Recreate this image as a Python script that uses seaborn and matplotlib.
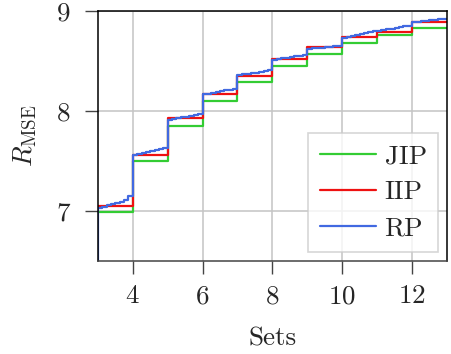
import numpy as np
import pandas as pd
import matplotlib
matplotlib.use("Agg")
import matplotlib.pyplot as plt
import seaborn as sns

# Per-set RMSE for the two set-level methods (value holds from set k to k+1)
sets = [3, 4, 5, 6, 7, 8, 9, 10, 11, 12, 13]
jip = [6.99, 7.50, 7.85, 8.10, 8.29, 8.45, 8.57, 8.68, 8.76, 8.83, 8.83]
iip = [7.05, 7.56, 7.93, 8.17, 8.35, 8.52, 8.64, 8.74, 8.79, 8.89, 8.89]

# RP is evaluated on a finer grid: eight sub-steps within each set
rp_by_set = {
    3: [7.03, 7.04, 7.06, 7.07, 7.08, 7.09, 7.11, 7.15],
    4: [7.56, 7.57, 7.58, 7.59, 7.60, 7.61, 7.62, 7.63],
    5: [7.91, 7.92, 7.93, 7.94, 7.94, 7.95, 7.96, 7.97],
    6: [8.17, 8.17, 8.18, 8.19, 8.20, 8.21, 8.21, 8.22],
    7: [8.36, 8.37, 8.37, 8.38, 8.38, 8.39, 8.40, 8.41],
    8: [8.51, 8.52, 8.53, 8.53, 8.54, 8.55, 8.55, 8.56],
    9: [8.62, 8.63, 8.63, 8.63, 8.64, 8.64, 8.65, 8.65],
    10: [8.73, 8.74, 8.75, 8.76, 8.77, 8.78, 8.79, 8.80],
    11: [8.80, 8.81, 8.82, 8.82, 8.83, 8.84, 8.85, 8.85],
    12: [8.89, 8.89, 8.90, 8.90, 8.91, 8.91, 8.92, 8.92],
}
rp_start = 6.0  # value before the first set is added

colors = {"JIP": "#33cc33", "IIP": "#ee1111", "RP": "#4169e1"}

rows = []
for name, vals in (("JIP", jip), ("IIP", iip)):
    for s, v in zip(sets, vals):
        rows.append((name, s, v))
rows.append(("RP", 3.0, rp_start))
for s, vals in rp_by_set.items():
    for k, v in enumerate(vals):
        rows.append(("RP", s + k / len(vals), v))
rows.append(("RP", 13.0, rp_by_set[12][-1]))
df = pd.DataFrame(rows, columns=["method", "Sets", "RMSE"])

sns.set_style("white")
FS = 19.5
TXT = "#262626"
plt.rcParams.update({
    "font.family": "serif",
    "font.serif": ["cmr10", "DejaVu Serif"],
    "mathtext.fontset": "cm",
    "axes.formatter.use_mathtext": True,
    "font.size": FS,
    "text.color": TXT,
    "axes.labelcolor": TXT,
    "xtick.labelcolor": TXT,
    "ytick.labelcolor": TXT,
})

fig = plt.figure(figsize=(4.51, 3.54), dpi=100)
ax = fig.add_axes([0.217, 0.263, 0.774, 0.706])

sns.lineplot(data=df, x="Sets", y="RMSE", hue="method", palette=colors,
             estimator=None, sort=False, drawstyle="steps-post",
             linewidth=1.6, ax=ax, legend=False)

ax.set_xlim(3, 13)
ax.set_ylim(6.5, 9)
ax.set_xticks([4, 6, 8, 10, 12])
ax.set_yticks([7, 8, 9])
ax.grid(True, color="#c4c4c4", linewidth=1.1)
ax.set_axisbelow(True)
for sp in ax.spines.values():
    sp.set_color("black")
    sp.set_linewidth(1.1)
ax.spines["bottom"].set_color("#444444")
ax.tick_params(axis="both", which="major", direction="out", length=9.5,
               width=1.0, color="#444444", labelsize=FS,
               bottom=True, left=True)
ax.tick_params(axis="y", pad=10)
ax.tick_params(axis="x", pad=7.5)

ax.set_xlabel("Sets", fontsize=FS, labelpad=13)
ax.set_ylabel(r"$R_{\mathrm{MSE}}$", fontsize=FS, labelpad=13)

handles = [plt.Line2D([], [], color=colors[m], linewidth=1.6) for m in ["JIP", "IIP", "RP"]]
leg = ax.legend(handles, ["JIP", "IIP", "RP"], loc="lower right",
                fontsize=FS, handlelength=2.1, handletextpad=0.3,
                borderpad=0.42, labelspacing=0.45, borderaxespad=0.33,
                fancybox=False, framealpha=0.8)
leg.get_frame().set_edgecolor("#cccccc")
leg.get_frame().set_linewidth(1.2)

fig.savefig("out.png", dpi=100)
